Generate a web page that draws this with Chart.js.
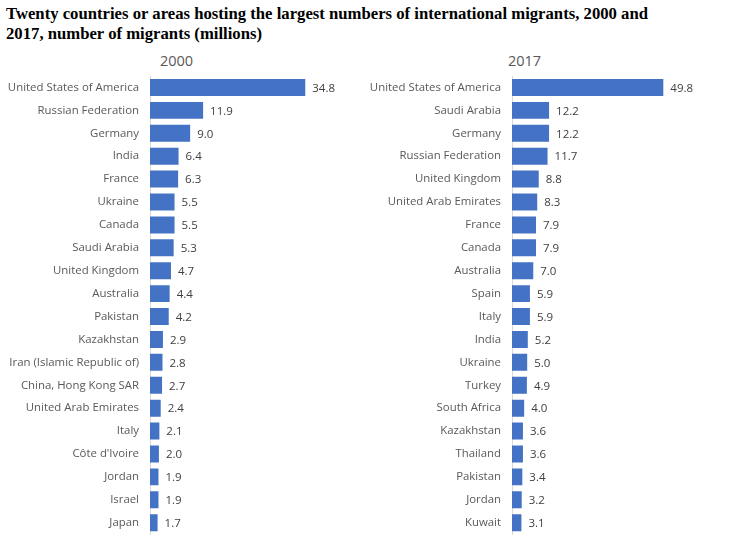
<!DOCTYPE html>
<html>
<head>
<meta charset="utf-8">
<script src="https://cdn.jsdelivr.net/npm/chart.js@4/dist/chart.umd.min.js"></script>
<style>
  body { margin: 0; background: #fff; width: 756px; height: 543px; position: relative; overflow: hidden; }
  #title { position: absolute; left: 6px; top: 4px; font-family: "Liberation Serif", serif; font-weight: bold; font-size: 16.7px; line-height: 20px; color: #000; }
  .sub { position: absolute; top: 51px; font-family: "Open Sans", sans-serif; font-size: 14.5px; color: #595959; }
  canvas { position: absolute; top: 0; }
</style>
</head>
<body>
<div id="title">Twenty countries or areas hosting the largest numbers of international migrants, 2000 and<br>2017, number of migrants (millions)</div>
<div class="sub" style="left:160px">2000</div>
<div class="sub" style="left:508px">2017</div>
<canvas id="c2000" width="378" height="552" style="left:0"></canvas>
<canvas id="c2017" width="396" height="552" style="left:360px"></canvas>
<script>
// 2000
const countries2000 = ['United States of America', 'Russian Federation', 'Germany', 'India', 'France', 'Ukraine', 'Canada', 'Saudi Arabia', 'United Kingdom', 'Australia', 'Pakistan', 'Kazakhstan', 'Iran (Islamic Republic of)', 'China, Hong Kong SAR', 'United Arab Emirates', 'Italy', "Côte d'Ivoire", 'Jordan', 'Israel', 'Japan'];
const migrants2000 = [34.8, 11.9, 9.0, 6.4, 6.3, 5.5, 5.5, 5.3, 4.7, 4.4, 4.2, 2.9, 2.8, 2.7, 2.4, 2.1, 2.0, 1.9, 1.9, 1.7];

// 2017
const countries2017 = ['United States of America', 'Saudi Arabia', 'Germany', 'Russian Federation', 'United Kingdom', 'United Arab Emirates', 'France', 'Canada', 'Australia', 'Spain', 'Italy', 'India', 'Ukraine', 'Turkey', 'South Africa', 'Kazakhstan', 'Thailand', 'Pakistan', 'Jordan', 'Kuwait'];
const migrants2017 = [49.8, 12.2, 12.2, 11.7, 8.8, 8.3, 7.9, 7.9, 7.0, 5.9, 5.9, 5.2, 5.0, 4.9, 4.0, 3.6, 3.6, 3.4, 3.2, 3.1];

// value labels at the end of each bar
const valueLabels = {
    id: 'valueLabels',
    afterDatasetsDraw(chart) {
        const ctx = chart.ctx;
        const meta = chart.getDatasetMeta(0);
        const values = chart.data.datasets[0].data;
        ctx.save();
        ctx.font = '11.5px "Open Sans", sans-serif';
        ctx.fillStyle = '#404040';
        ctx.textAlign = 'left';
        ctx.textBaseline = 'middle';
        meta.data.forEach((bar, i) => {
            ctx.fillText(values[i].toFixed(1), bar.x + 7, bar.y + 1);
        });
        ctx.restore();
    }
};

function makeChart(id, labels, values, axisWidth, xMax) {
    const ctx = document.getElementById(id).getContext('2d');
    return new Chart(ctx, {
        type: 'bar',
        data: {
            labels: labels,
            datasets: [{
                data: values,
                backgroundColor: '#4472C4',
                barPercentage: 0.74,
                categoryPercentage: 1
            }]
        },
        options: {
            indexAxis: 'y',
            responsive: false,
            animation: false,
            layout: { padding: { top: 76, bottom: 0, left: 0, right: 0 } },
            plugins: { legend: { display: false }, tooltip: { enabled: false } },
            scales: {
                x: { display: false, min: 0, max: xMax },
                y: {
                    grid: { display: false, drawTicks: false },
                    border: { display: true, color: '#d9d9d9', width: 1 },
                    ticks: {
                        padding: 11,
                        color: '#595959',
                        font: { family: '"Open Sans", sans-serif', size: 11.4 }
                    },
                    afterFit(scale) { scale.width = axisWidth; }
                }
            }
        },
        plugins: [valueLabels]
    });
}

makeChart('c2000', countries2000, migrants2000, 150, 51.1);
makeChart('c2017', countries2017, migrants2017, 152, 80.3);
</script>
</body>
</html>
